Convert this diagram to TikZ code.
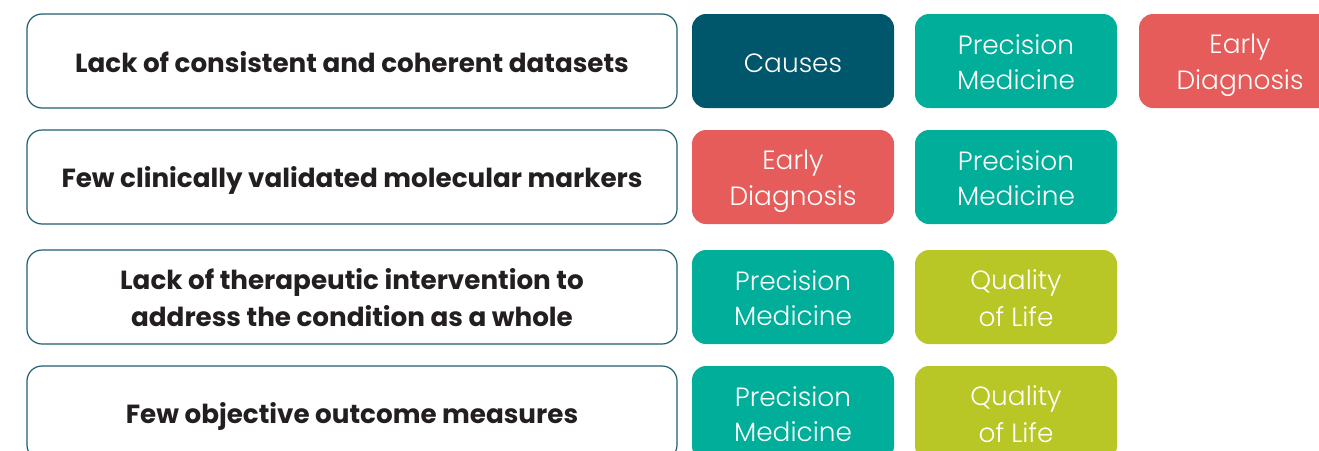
\documentclass[tikz,border=0pt]{standalone}
\usepackage{fontspec}
\setmainfont{Poppins}
\newfontfamily\boldfont{Poppins}[UprightFont=* Bold]
\newfontfamily\lightfont{Poppins}[UprightFont=* Light]
\definecolor{bordercol}{HTML}{1F5F70}
\definecolor{darkteal}{HTML}{00566A}
\definecolor{teal}{HTML}{00AE9A}
\definecolor{coral}{HTML}{E55C5A}
\definecolor{lime}{HTML}{B8C626}
\definecolor{txt}{HTML}{231F20}
\newcommand{\st}{\rule[-6.5pt]{0pt}{35pt}}
\tikzset{
  issue/.style={draw=bordercol, line width=1.2pt, rounded corners=15pt, fill=white,
    minimum width=650pt, minimum height=94pt, align=center, text=txt,
    font=\boldfont\fontsize{26.2}{35}\selectfont, inner sep=0pt},
  tag/.style={rounded corners=14pt, minimum width=202pt, minimum height=94pt,
    align=center, text=white, font=\lightfont\fontsize{26.4}{35}\selectfont, inner sep=0pt},
  causes/.style={tag, fill=darkteal},
  prec/.style={tag, fill=teal},
  early/.style={tag, fill=coral},
  qol/.style={tag, fill=lime}
}
\begin{document}
\begin{tikzpicture}[x=1pt,y=-1pt]
\useasboundingbox (0,0) rectangle (1319,450);
\clip (0,0) rectangle (1319,450);
% row 1
\node[issue] (i1) at (352,61) {\st Lack of consistent and coherent datasets};
\node[causes] (c11) at (793,61) {\st Causes};
\node[prec] (c12) at (1016,61) {\st Precision\\\st Medicine};
\node[early] (c13) at (1240,61) {\st Early\\\st Diagnosis};
% row 2
\node[issue] (i2) at (352,177) {\st Few clinically validated molecular markers};
\node[early] (c21) at (793,177) {\st Early\\\st Diagnosis};
\node[prec] (c22) at (1016,177) {\st Precision\\\st Medicine};
% row 3
\node[issue] (i3) at (352,297) {\st Lack of therapeutic intervention to\\\st address the condition as a whole};
\node[prec] (c31) at (793,297) {\st Precision\\\st Medicine};
\node[qol] (c32) at (1016,297) {\st Quality\\\st of Life};
% row 4
\node[issue] (i4) at (352,413) {\st Few objective outcome measures};
\node[prec] (c41) at (793,413) {\st Precision\\\st Medicine};
\node[qol] (c42) at (1016,413) {\st Quality\\\st of Life};
\end{tikzpicture}
\end{document}
